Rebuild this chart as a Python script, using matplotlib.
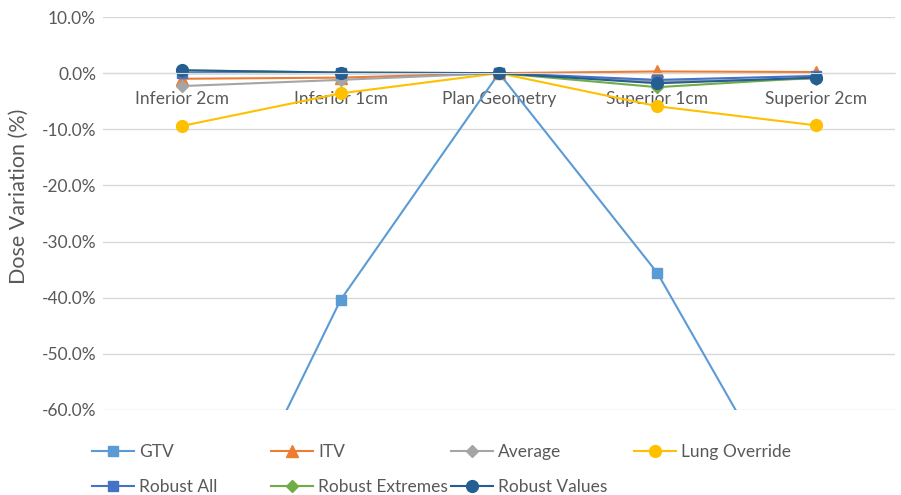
import matplotlib.pyplot as plt
from matplotlib.ticker import FuncFormatter
from matplotlib.lines import Line2D

plt.rcParams['font.family'] = ['Lato', 'DejaVu Sans']

positions = ["Inferior 2cm", "Inferior 1cm", "Plan Geometry", "Superior 1cm", "Superior 2cm"]

gtv = [-98.0, -40.4, 0.0, -35.6, -85.0]
itv = [-1.0, -0.8, 0.0, 0.3, 0.2]
average = [-2.3, -1.2, 0.0, -1.5, -1.0]
lung_override = [-9.4, -3.6, 0.0, -5.9, -9.3]
robust_all = [0.0, 0.0, 0.0, -1.2, -0.5]
robust_extremes = [0.5, 0.1, 0.0, -2.5, -0.8]
robust_values = [0.5, 0.1, 0.0, -1.8, -0.8]

series = [
    ("GTV", gtv, "#5B9BD5", "s", 7),
    ("ITV", itv, "#ED7D31", "^", 8),
    ("Average", average, "#A5A5A5", "D", 6),
    ("Lung Override", lung_override, "#FFC000", "o", 8.5),
    ("Robust All", robust_all, "#4472C4", "s", 7),
    ("Robust Extremes", robust_extremes, "#70AD47", "D", 6),
    ("Robust Values", robust_values, "#255E91", "o", 8.5),
]

text_color = "#595959"
fs = 12.5

fig = plt.figure(figsize=(9.01, 4.95), dpi=100)
ax = fig.add_axes([103 / 901, 1 - 410 / 495, 792 / 901, 393 / 495])

x = range(len(positions))
for name, vals, color, marker, ms in series:
    ax.plot(x, vals, color=color, marker=marker, markersize=ms, linewidth=1.5, label=name)

ax.set_xlim(-0.5, len(positions) - 0.5)
ax.set_ylim(-60, 10)
ax.set_yticks(range(-60, 11, 10))
ax.yaxis.set_major_formatter(FuncFormatter(lambda v, p: f"{v:.1f}%"))
ax.grid(axis="y", color="#D9D9D9", linewidth=1)
ax.set_axisbelow(True)

# category axis crosses at 0%
ax.set_xticks(list(x))
ax.set_xticklabels(positions)
ax.spines["bottom"].set_position(("data", 0))
ax.spines["bottom"].set_color("#D9D9D9")
for s in ["top", "right", "left"]:
    ax.spines[s].set_visible(False)
ax.tick_params(axis="x", length=0, pad=13, labelsize=fs, labelcolor=text_color)
ax.tick_params(axis="y", length=0, pad=5, labelsize=fs, labelcolor=text_color)
ax.set_ylabel("Dose Variation (%)", fontsize=15.5, color=text_color)
ax.yaxis.set_label_coords(-0.093, 0.545)

# legend laid out in two rows, one legend per column
col_x = [92, 271, 451, 634]
for c, left in enumerate(col_x):
    entries = [series[c]] + ([series[c + 4]] if c + 4 < len(series) else [])
    handles = [Line2D([], [], color=col, marker=m, markersize=ms, linewidth=1.5)
               for _, _, col, m, ms in entries]
    fig.legend(handles, [e[0] for e in entries], loc="upper left",
               bbox_to_anchor=(left / 901, 1 - 444 / 495), frameon=False,
               fontsize=fs, labelcolor=text_color, handlelength=2.4,
               handletextpad=0.3, labelspacing=1.08, borderpad=0, borderaxespad=0)

fig.savefig("out.png", dpi=100)
